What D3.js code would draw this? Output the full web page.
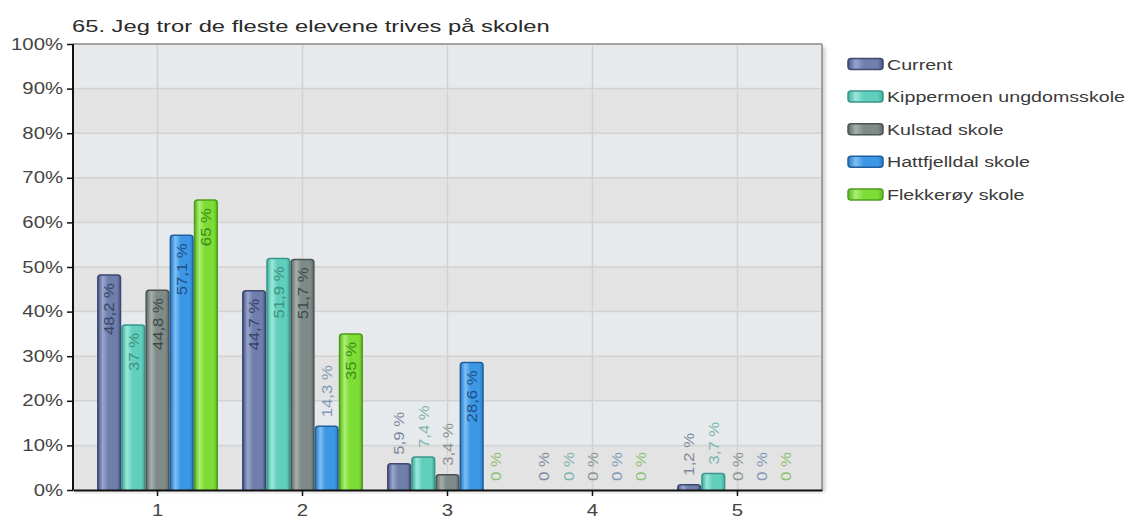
<!DOCTYPE html>
<html><head><meta charset="utf-8">
<script src="https://cdn.jsdelivr.net/npm/d3@7"></script>
<style>body{margin:0;background:#fff}svg{display:block}text{font-family:"Liberation Sans",Arial,sans-serif}</style>
</head><body>
<svg id="c" width="1129" height="521"></svg>
<script>
const title = "65. Jeg tror de fleste elevene trives på skolen";
const categories = ["1","2","3","4","5"];
const seriesNames = ["Current","Kippermoen ungdomsskole","Kulstad skole","Hattfjelldal skole","Flekkerøy skole"];
const current      = [48.2, 44.7, 5.9, 0, 1.2];
const kippermoen   = [37, 51.9, 7.4, 0, 3.7];
const kulstad      = [44.8, 51.7, 3.4, 0, 0];
const hattfjelldal = [57.1, 14.3, 28.6, 0, 0];
const flekkeroy    = [65, 35, 0, 0, 0];
const yTicks = [0,10,20,30,40,50,60,70,80,90,100];
const values = [current, kippermoen, kulstad, hattfjelldal, flekkeroy];

const colors = [
  {base:"#6f7eab", light:"#98a6cf", dark:"#4a5682", stroke:"#3d4770", text:"#3a4466", out:"#7f88a2"},
  {base:"#62cfbd", light:"#9ae9db", dark:"#3fae9c", stroke:"#3a978a", text:"#3a9384", out:"#7fb5ac"},
  {base:"#7f8b88", light:"#a6b0ad", dark:"#5f6a67", stroke:"#4a5452", text:"#3f4846", out:"#8a928f"},
  {base:"#3c97e4", light:"#7cc0f5", dark:"#2a78c4", stroke:"#1f5f9e", text:"#1f5088", out:"#7f98b4"},
  {base:"#7ddc36", light:"#a8f070", dark:"#5cb820", stroke:"#4f9c1c", text:"#3f8a16", out:"#8fbf72"}
];

const svg = d3.select("#c");
const L = 73, R = 822, T = 44, B = 490;

function measure(str, size){
  const t = svg.append("text").attr("font-size",size).text(str);
  const w = t.node().getComputedTextLength(); t.remove(); return w;
}
const KT = 478 / measure(title, 16.5);
const KY = 52 / measure("100%", 16);
const KL = 238 / measure("Kippermoen ungdomsskole", 15.5);
const KB = 52 / measure("48,2 %", 14.5);

svg.append("text").attr("font-size",16.5).attr("fill","#2a2a2a").text(title)
  .attr("transform",`translate(72,32) scale(${KT},1)`);

const defs = svg.append("defs");
colors.forEach((c,i)=>{
  const g = defs.append("linearGradient").attr("id","g"+i).attr("x1","0").attr("x2","1").attr("y1","0").attr("y2","0");
  g.append("stop").attr("offset","0%").attr("stop-color",c.dark);
  g.append("stop").attr("offset","22%").attr("stop-color",c.light);
  g.append("stop").attr("offset","45%").attr("stop-color",c.base);
  g.append("stop").attr("offset","85%").attr("stop-color",c.base);
  g.append("stop").attr("offset","100%").attr("stop-color",c.dark);
});
const f = defs.append("filter").attr("id","sh").attr("x","-5%").attr("y","-5%").attr("width","115%").attr("height","120%");
f.append("feGaussianBlur").attr("stdDeviation",2);

const x0 = d3.scaleBand().domain(categories).range([L,R]).padding(0.166);
const x1 = d3.scaleBand().domain(d3.range(seriesNames.length)).range([0,x0.bandwidth()]);
const y = d3.scaleLinear().domain([0,100]).range([B,T]);

svg.append("rect").attr("x",L+3).attr("y",T+3).attr("width",R-L).attr("height",B-T)
  .attr("fill","#c8c8c8").attr("filter","url(#sh)");
svg.append("g").selectAll("rect").data(yTicks.slice(0,-1)).join("rect")
  .attr("x",L).attr("width",R-L).attr("y",d=>y(d+10)).attr("height",d=>y(d)-y(d+10))
  .attr("fill",(d,i)=> i%2 ? "#e7eaed" : "#e3e3e3");
svg.append("g").selectAll("line").data(yTicks.slice(1,-1)).join("line")
  .attr("x1",L).attr("x2",R).attr("y1",d=>y(d)).attr("y2",d=>y(d)).attr("stroke","#d2d2d2").attr("stroke-width",1.5);
svg.append("g").selectAll("line").data(categories).join("line")
  .attr("x1",d=>x0(d)+x0.bandwidth()/2).attr("x2",d=>x0(d)+x0.bandwidth()/2).attr("y1",T).attr("y2",B)
  .attr("stroke","#d2d2d2").attr("stroke-width",1.5);
svg.append("line").attr("x1",L).attr("x2",R).attr("y1",T).attr("y2",T).attr("stroke","#a3a3a3").attr("stroke-width",2);
svg.append("line").attr("x1",R).attr("x2",R).attr("y1",T).attr("y2",B).attr("stroke","#8a8a8a").attr("stroke-width",1.5);

const groups = svg.append("g").selectAll("g").data(categories).join("g")
  .attr("transform",d=>`translate(${x0(d)},0)`);
groups.each(function(cat,ci){
  const g = d3.select(this);
  seriesNames.forEach((s,si)=>{
    const v = values[si][ci];
    if (v<=0) return;
    const bx = x1(si), bw = x1.bandwidth();
    const top = y(v), h = B - top;
    g.append("rect").attr("x",bx+0.75).attr("y",top).attr("width",bw-1.5).attr("height",h+3)
      .attr("rx",3).attr("fill","url(#g"+si+")").attr("stroke",colors[si].stroke).attr("stroke-width",1.5);
  });
});
svg.append("rect").attr("x",L-1).attr("y",B+1).attr("width",R-L+6).attr("height",5).attr("fill","#fff");
svg.append("rect").attr("x",L+2).attr("y",B+1).attr("width",R-L+2).attr("height",3).attr("fill","#e4e4e4").attr("opacity",0.6);

groups.each(function(cat,ci){
  const g = d3.select(this);
  seriesNames.forEach((s,si)=>{
    const v = values[si][ci];
    const cx = x1(si) + x1.bandwidth()/2;
    const top = y(v), h = B - top;
    const label = String(v).replace(".",",") + " %";
    const t = g.append("text").text(label).attr("font-size",14.5).attr("dy","0.36em");
    const len = t.node().getComputedTextLength() * KB;
    if (h > len + 18) {
      t.attr("text-anchor","end").attr("fill",colors[si].text)
       .attr("transform",`translate(${cx},${top+8}) rotate(-90) scale(${KB},1)`);
    } else {
      t.attr("text-anchor","start").attr("fill",colors[si].out)
       .attr("transform",`translate(${cx},${top-9}) rotate(-90) scale(${KB},1)`);
    }
  });
});

const ya = svg.append("g").attr("transform",`translate(${L},0)`)
  .call(d3.axisLeft(y).tickValues(yTicks).tickSize(6).tickFormat(d=>d+"%"));
ya.select(".domain").attr("stroke","#111").attr("stroke-width",2).attr("d",`M0,${T}V${B}`);
ya.selectAll(".tick line").attr("stroke","#111").attr("stroke-width",1.5);
ya.selectAll(".tick text").attr("font-size",16).attr("fill","#444").attr("x",-10/KY)
  .attr("font-family","Liberation Sans").attr("transform",`scale(${KY},1)`);
const xa = svg.append("g").attr("transform",`translate(0,${B})`)
  .call(d3.axisBottom(x0).tickSize(6).tickSizeOuter(0));
xa.select(".domain").attr("stroke","#111").attr("stroke-width",2);
xa.selectAll(".tick line").attr("stroke","#111").attr("stroke-width",1.5);
xa.selectAll(".tick text").attr("font-size",16).attr("fill","#444").attr("y",15)
  .attr("font-family","Liberation Sans").attr("transform",`scale(${KY},1)`);

const lg = svg.append("g").selectAll("g").data(seriesNames).join("g")
  .attr("transform",(d,i)=>`translate(848,${64+i*32.6})`);
lg.append("rect").attr("x",0).attr("y",-5.5).attr("width",35).attr("height",11).attr("rx",3)
  .attr("fill",(d,i)=>"url(#g"+i+")").attr("stroke",(d,i)=>colors[i].stroke).attr("stroke-width",1.5);
lg.append("text").attr("dy","0.36em").attr("font-size",15.5).attr("fill","#3a3a3a")
  .attr("transform",`translate(39,0) scale(${KL},1)`).text(d=>d);
</script>
</body></html>
